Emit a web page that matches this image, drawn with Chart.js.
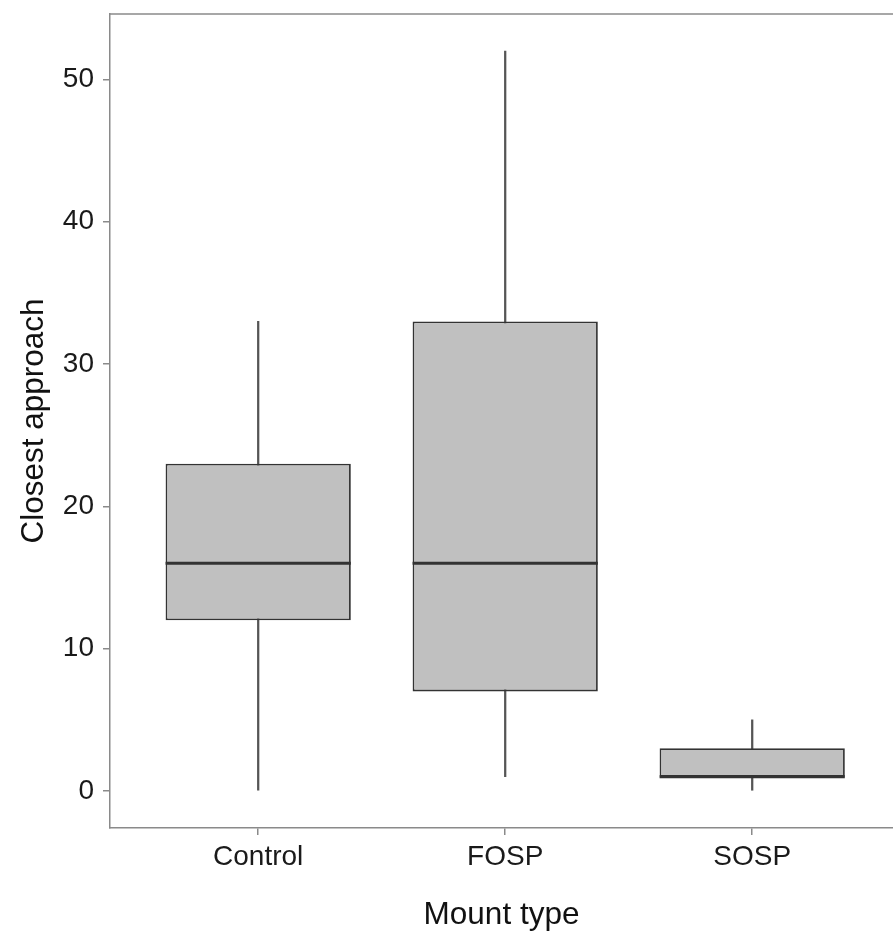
<!DOCTYPE html>
<html>
<head>
<meta charset="utf-8">
<script src="https://cdn.jsdelivr.net/npm/chart.js@4/dist/chart.umd.min.js"></script>
<style>
  html, body { margin: 0; padding: 0; background: #fff; }
  #wrap { width: 893px; height: 939px; }
</style>
</head>
<body>
<div id="wrap"><canvas id="boxChart"></canvas></div>
<script>
// Box plot data
const categories = ['Control', 'FOSP', 'SOSP'];
const whiskerMin = [0, 1, 0];
const lowerQuartile = [12, 7, 1];
const medians = [16, 16, 1];
const upperQuartile = [23, 33, 3];
const whiskerMax = [33, 52, 5];
const yTicks = [0, 10, 20, 30, 40, 50];

const xPos = categories.map((c, i) => i + 1);
const tickFont = { family: 'Liberation Sans, Arial, sans-serif', size: 28 };
const titleFont = { family: 'Liberation Sans, Arial, sans-serif', size: 31.5 };
const axisGrey = '#8a8a8a';

// Median lines + top frame line
const boxExtras = {
    id: 'boxExtras',
    afterDatasetsDraw(chart) {
        const { ctx, chartArea, scales } = chart;
        const boxes = chart.getDatasetMeta(1).data;
        ctx.save();
        ctx.strokeStyle = '#333333';
        ctx.lineWidth = 3;
        medians.forEach((m, i) => {
            const bar = boxes[i];
            const y = scales.y.getPixelForValue(m);
            const x = scales.x.getPixelForValue(xPos[i]);
            ctx.beginPath();
            ctx.moveTo(x - bar.width / 2, y);
            ctx.lineTo(x + bar.width / 2, y);
            ctx.stroke();
        });
        ctx.strokeStyle = axisGrey;
        ctx.lineWidth = 1.5;
        ctx.beginPath();
        ctx.moveTo(chartArea.left, chartArea.top);
        ctx.lineTo(chartArea.right, chartArea.top);
        ctx.stroke();
        ctx.restore();
    }
};

new Chart(document.getElementById('boxChart'), {
    type: 'bar',
    data: {
        datasets: [{
            label: 'whiskers',
            data: xPos.map((x, i) => ({ x: x, y: [whiskerMin[i], whiskerMax[i]] })),
            backgroundColor: '#555555',
            borderWidth: 0,
            barThickness: 1.6,
            order: 2
        }, {
            label: 'boxes',
            data: xPos.map((x, i) => ({ x: x, y: [lowerQuartile[i], upperQuartile[i]] })),
            backgroundColor: '#c0c0c0',
            borderColor: '#333333',
            borderWidth: 1.8,
            borderSkipped: false,
            barPercentage: 0.75,
            categoryPercentage: 1,
            order: 1
        }]
    },
    options: {
        responsive: true,
        maintainAspectRatio: false,
        animation: false,
        grouped: false,
        layout: { padding: { top: 14, left: 0, right: 0, bottom: 0 } },
        plugins: {
            legend: { display: false },
            tooltip: { enabled: false }
        },
        scales: {
            x: {
                type: 'linear',
                offset: false,
                min: 0.4,
                max: 3.57,
                afterBuildTicks: scale => { scale.ticks = xPos.map(v => ({ value: v })); },
                afterFit: scale => { scale.height = 111; },
                ticks: {
                    callback: v => categories[v - 1],
                    font: tickFont,
                    color: '#1a1a1a',
                    padding: 5,
                    maxRotation: 0
                },
                grid: {
                    offset: false,
                    drawOnChartArea: false,
                    drawTicks: true,
                    tickLength: 7,
                    color: axisGrey,
                    lineWidth: 1.5
                },
                border: { display: true, color: axisGrey, width: 1.5 },
                title: {
                    display: true,
                    text: 'Mount type',
                    font: titleFont,
                    color: '#111',
                    padding: { top: 0, bottom: 5 }
                }
            },
            y: {
                min: -2.6,
                max: 54.6,
                afterBuildTicks: scale => { scale.ticks = yTicks.map(v => ({ value: v })); },
                afterFit: scale => {
                    scale.width = 110;
                    scale.paddingTop = 0;
                    scale.paddingBottom = 0;
                },
                ticks: {
                    font: tickFont,
                    color: '#1a1a1a',
                    padding: 9
                },
                grid: {
                    drawOnChartArea: false,
                    drawTicks: true,
                    tickLength: 7,
                    color: axisGrey,
                    lineWidth: 1.5
                },
                border: { display: true, color: axisGrey, width: 1.5 },
                title: {
                    display: true,
                    text: 'Closest approach',
                    font: titleFont,
                    color: '#111',
                    padding: { top: 15, bottom: 0 }
                }
            }
        }
    },
    plugins: [boxExtras]
});
</script>
</body>
</html>
